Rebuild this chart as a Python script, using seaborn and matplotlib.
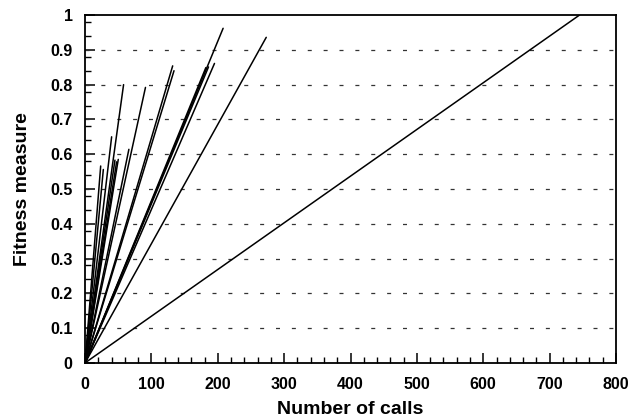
import numpy as np
import pandas as pd
import matplotlib
matplotlib.use("Agg")
import matplotlib.pyplot as plt
import seaborn as sns
from matplotlib.ticker import MultipleLocator, FixedLocator, FuncFormatter

# Endpoints of each run (each line starts at the origin)
start_calls = 0
start_fitness = 0
end_calls = [745, 208, 273, 195, 186, 182, 132, 134, 91, 58, 66, 40, 23.5, 27.5, 45, 47.5, 50]
end_fitness = [1.0, 0.962, 0.936, 0.861, 0.851, 0.849, 0.854, 0.84, 0.792, 0.80,
               0.614, 0.65, 0.566, 0.556, 0.583, 0.578, 0.585]

x_ticks = [0, 100, 200, 300, 400, 500, 600, 700, 800]
y_ticks = [0, 0.1, 0.2, 0.3, 0.4, 0.5, 0.6, 0.7, 0.8, 0.9, 1.0]

rows = []
for i, (xc, yf) in enumerate(zip(end_calls, end_fitness)):
    rows.append({"run": i, "calls": start_calls, "fitness": start_fitness})
    rows.append({"run": i, "calls": xc, "fitness": yf})
df = pd.DataFrame(rows)

sns.set_theme(style="white", rc={"text.color": "black", "axes.labelcolor": "black",
                                 "xtick.color": "black", "ytick.color": "black"})
plt.rcParams["font.family"] = ["Liberation Sans", "DejaVu Sans"]

fig = plt.figure(figsize=(6.35, 4.19), dpi=100)
ax = fig.add_axes([0.134, 0.134, 0.836, 0.830])

# dashed horizontal grid
for yv in y_ticks[1:-1]:
    ax.axhline(yv, color="#333333", linewidth=0.9, linestyle=(0, (3.2, 9.5)), zorder=1)

sns.lineplot(data=df, x="calls", y="fitness", units="run", estimator=None,
             color="black", linewidth=1.1, ax=ax, legend=False, zorder=3)

ax.set_xlim(0, 800)
ax.set_ylim(0, 1)
ax.set_xticks(x_ticks)
ax.set_yticks(y_ticks)
ax.xaxis.set_minor_locator(MultipleLocator(20))
minor_y = [round(m + o, 2) for m in np.arange(0, 1.0, 0.1) for o in (0.04, 0.08)]
ax.yaxis.set_minor_locator(FixedLocator(minor_y))
ax.yaxis.set_major_formatter(FuncFormatter(lambda v, p: "%g" % round(v, 2)))
ax.xaxis.set_major_formatter(FuncFormatter(lambda v, p: "%g" % v))

ax.tick_params(axis="both", which="major", direction="in", length=7, width=1.1,
               color="black", labelcolor="black", labelsize=11.5)
ax.tick_params(axis="x", which="major", pad=10)
ax.tick_params(axis="y", which="major", pad=9)
ax.tick_params(axis="both", which="minor", direction="in", length=4, width=1.0,
               color="black")
ax.tick_params(bottom=True, left=True, which="both")
for lab in ax.get_xticklabels() + ax.get_yticklabels():
    lab.set_fontweight("bold")

for s in ax.spines.values():
    s.set_color("black")
    s.set_linewidth(1.3)
    s.set_visible(True)

ax.set_xlabel("Number of calls", fontsize=14, fontweight="bold", labelpad=7, color="black")
ax.set_ylabel("Fitness measure", fontsize=14, fontweight="bold", labelpad=14, color="black")

fig.savefig("out.png", dpi=100)
